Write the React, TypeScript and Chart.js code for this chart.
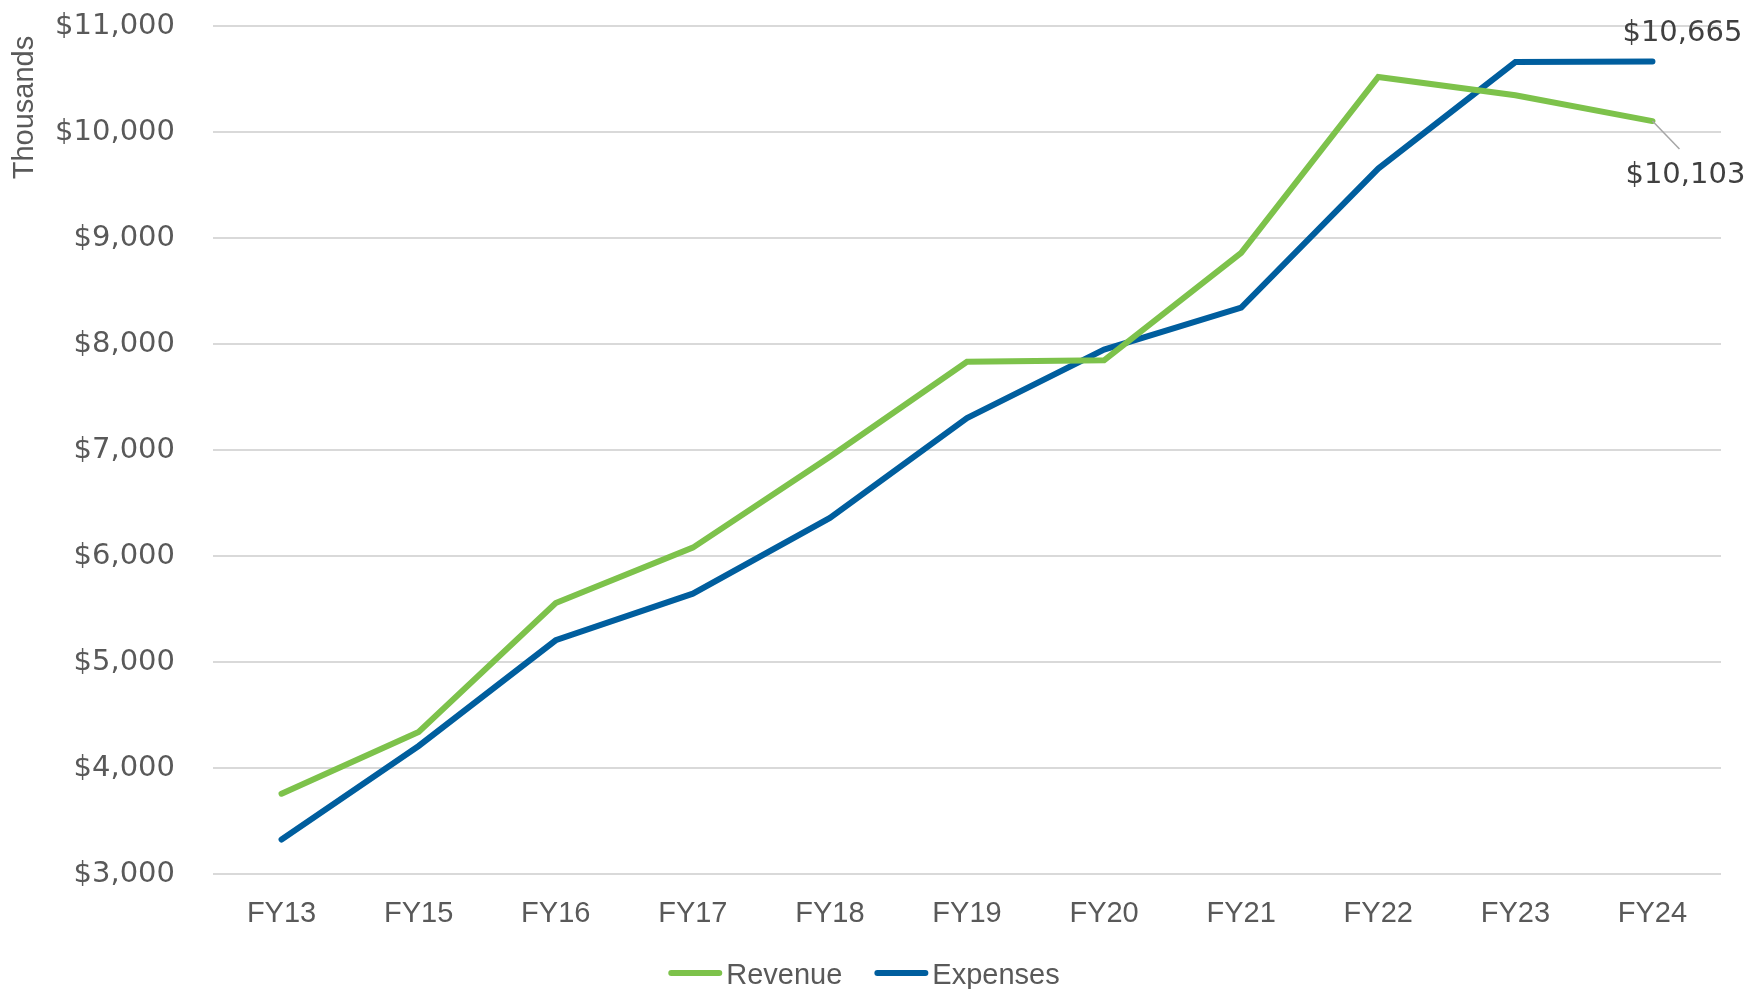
import React, { useEffect, useRef } from "react";
import { Chart, registerables } from "chart.js";

Chart.register(...registerables);

const categories = ["FY13", "FY15", "FY16", "FY17", "FY18", "FY19", "FY20", "FY21", "FY22", "FY23", "FY24"];
const revenue = [3758, 4340, 5557, 6079, 6937, 7833, 7846, 8859, 10519, 10346, 10103];
const expenses = [3325, 4208, 5205, 5645, 6359, 7302, 7947, 8343, 9655, 10660, 10665];
const seriesNames = ["Revenue", "Expenses"];
const seriesColors = ["#7DC24B", "#005E9E"];
const yMin = 3000;
const yMax = 11000;
const yStep = 1000;
const yTitle = "Thousands";

const W = 1746;
const H = 989;
const TEXT_FONT = "'Liberation Sans', Arial, sans-serif";
const NUM_FONT = "'DejaVu Sans', sans-serif";
const AXIS_COLOR = "#595959";
const LABEL_COLOR = "#404040";

const fmt = (v: number) => "$" + Math.round(v).toLocaleString("en-US");

const titlePlugin = {
  id: "yTitle",
  afterDraw(chart: any) {
    const ctx = chart.ctx;
    ctx.save();
    ctx.translate(33, 107.5);
    ctx.rotate(-Math.PI / 2);
    ctx.font = `29px ${TEXT_FONT}`;
    ctx.fillStyle = AXIS_COLOR;
    ctx.textAlign = "center";
    ctx.textBaseline = "alphabetic";
    ctx.fillText(yTitle, 0, 0);
    ctx.restore();
  },
};

const endLabelsPlugin = {
  id: "endLabels",
  afterDatasetsDraw(chart: any) {
    const ctx = chart.ctx;
    const xs = chart.scales.x;
    const ys = chart.scales.y;
    const last = categories.length - 1;
    const px = xs.getPixelForValue(last);
    const eY = ys.getPixelForValue(expenses[last]);
    const rY = ys.getPixelForValue(revenue[last]);
    ctx.save();
    ctx.font = `29px ${NUM_FONT}`;
    ctx.fillStyle = LABEL_COLOR;
    ctx.textAlign = "left";
    ctx.textBaseline = "alphabetic";
    ctx.fillText(fmt(expenses[last]), px - 30, eY - 20.5);
    ctx.strokeStyle = "#a6a6a6";
    ctx.lineWidth = 1.5;
    ctx.beginPath();
    ctx.moveTo(px, rY);
    ctx.lineTo(px + 27, rY + 28);
    ctx.stroke();
    ctx.fillText(fmt(revenue[last]), px - 27, rY + 62);
    ctx.restore();
  },
};

const legendPlugin = {
  id: "customLegend",
  afterDraw(chart: any) {
    const ctx = chart.ctx;
    ctx.save();
    ctx.font = `29px ${TEXT_FONT}`;
    const lineW = 54;
    const gap = 4;
    const spacing = 32;
    const widths = seriesNames.map((n) => ctx.measureText(n).width);
    const total = widths.reduce((a, w) => a + lineW + gap + w, 0) + spacing * (seriesNames.length - 1);
    let x = 864 - total / 2;
    const cy = 973;
    seriesNames.forEach((name, i) => {
      ctx.strokeStyle = seriesColors[i];
      ctx.lineWidth = 6;
      ctx.lineCap = "round";
      ctx.beginPath();
      ctx.moveTo(x + 3, cy);
      ctx.lineTo(x + lineW - 3, cy);
      ctx.stroke();
      ctx.fillStyle = AXIS_COLOR;
      ctx.textAlign = "left";
      ctx.textBaseline = "alphabetic";
      ctx.fillText(name, x + lineW + gap, cy + 10.5);
      x += lineW + gap + widths[i] + spacing;
    });
    ctx.restore();
  },
};

export default function App() {
  const ref = useRef<HTMLCanvasElement | null>(null);
  useEffect(() => {
    if (!ref.current) return;
    const chart = new Chart(ref.current, {
      type: "line",
      data: {
        labels: categories,
        datasets: [
          {
            label: seriesNames[0],
            data: revenue,
            borderColor: seriesColors[0],
            backgroundColor: seriesColors[0],
            borderWidth: 6,
            pointRadius: 0,
            tension: 0,
            borderCapStyle: "round",
          },
          {
            label: seriesNames[1],
            data: expenses,
            borderColor: seriesColors[1],
            backgroundColor: seriesColors[1],
            borderWidth: 6,
            pointRadius: 0,
            tension: 0,
            borderCapStyle: "round",
          },
        ],
      },
      options: {
        responsive: false,
        animation: false,
        layout: { padding: { top: 26, right: 25, bottom: 55, left: 0 } },
        plugins: {
          legend: { display: false },
          tooltip: { enabled: false },
        },
        scales: {
          x: {
            offset: true,
            grid: { display: false, drawTicks: false },
            border: { display: false },
            ticks: {
              padding: 23,
              color: AXIS_COLOR,
              font: { size: 29, family: TEXT_FONT },
              maxRotation: 0,
              autoSkip: false,
            },
            afterFit(scale: any) {
              scale.height = 60;
            },
          },
          y: {
            min: yMin,
            max: yMax,
            grid: { color: "#d9d9d9", lineWidth: 2, drawTicks: false },
            border: { display: false },
            ticks: {
              stepSize: yStep,
              padding: 38,
              color: AXIS_COLOR,
              font: { size: 29, family: NUM_FONT },
              callback: (v: any) => fmt(Number(v)),
            },
            afterFit(scale: any) {
              scale.width = 213;
              scale.paddingTop = 0;
              scale.paddingBottom = 0;
            },
          },
        },
      },
      plugins: [titlePlugin, endLabelsPlugin, legendPlugin],
    } as any);
    return () => chart.destroy();
  }, []);
  return (
    <div style={{ position: "absolute", left: 0, top: 0, width: W, height: H, background: "#fff" }}>
      <canvas ref={ref} width={W} height={H} style={{ width: W, height: H, display: "block" }} />
    </div>
  );
}
